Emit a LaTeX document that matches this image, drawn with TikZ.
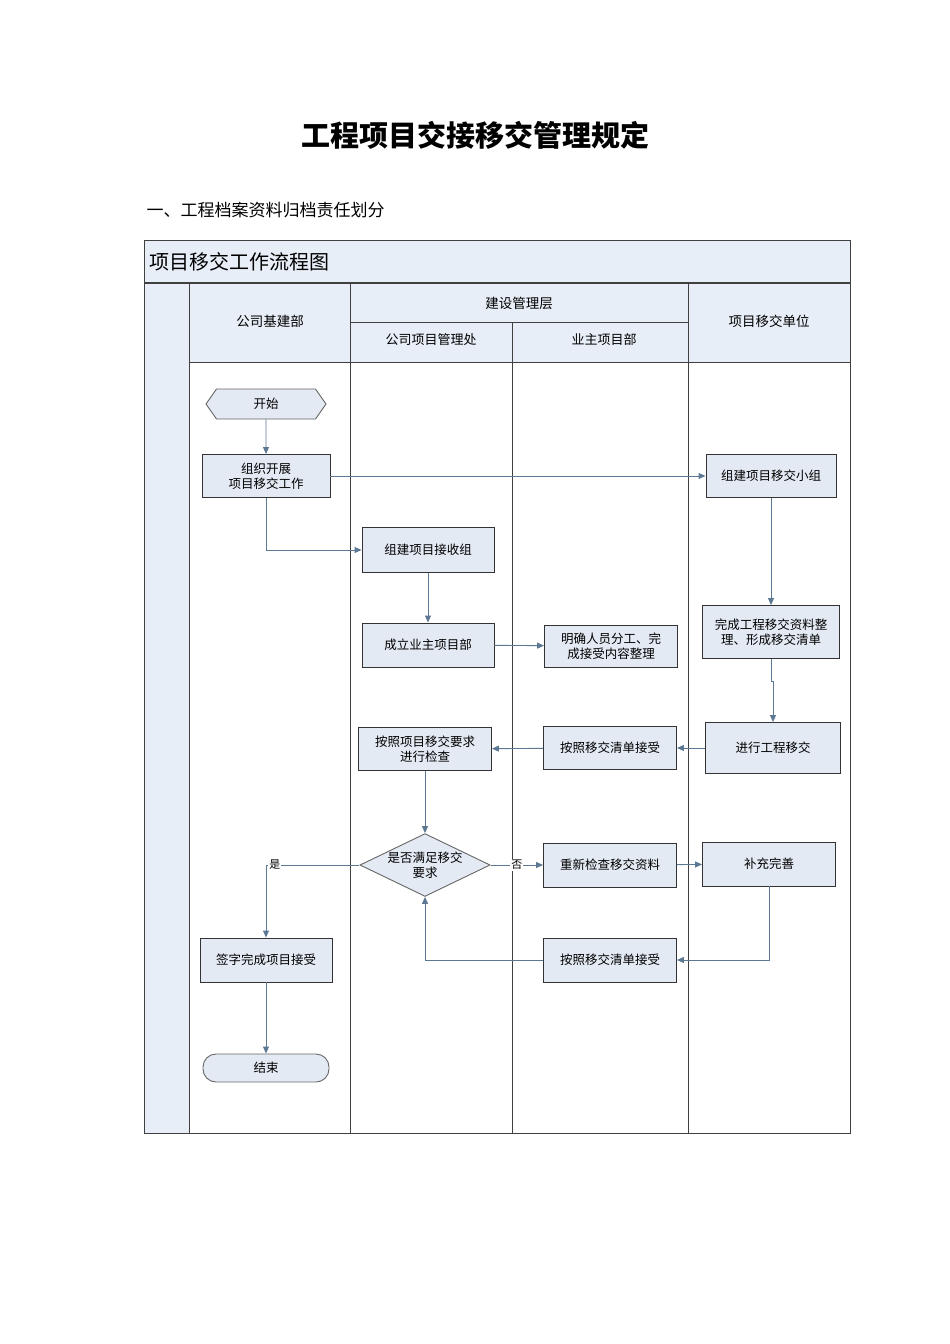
\documentclass[tikz,border=0pt]{standalone}
\usepackage{fontspec}
\setmainfont{Noto Sans CJK SC}
\usetikzlibrary{shapes.geometric,shapes.symbols,arrows.meta}
\definecolor{hd}{HTML}{E8EEF7}
\definecolor{bx}{HTML}{E4EAF4}
\definecolor{ar}{HTML}{5D7893}
\tikzset{
 boxn/.style={draw=black!80,line width=0.9pt,fill=bx,align=center,inner sep=0pt,font=\fontsize{12.5}{15}\selectfont},
 arr/.style={draw=ar,line width=0.9pt,-{Triangle[length=7pt,width=6pt]}},
 lane/.style={draw=black!75,line width=0.8pt},
 lbl/.style={fill=white,inner sep=1pt,font=\fontsize{11}{13}\selectfont}
}
\begin{document}
\begin{tikzpicture}[x=1pt,y=-1pt]
\useasboundingbox (0,0) rectangle (950,1344);
\node[font=\bfseries\fontsize{29}{34}\selectfont] (ttl) at (475,135) {工程项目交接移交管理规定};
\node[anchor=west,font=\fontsize{17}{20}\selectfont] (sub) at (143,210) {一、工程档案资料归档责任划分};
% frame
\fill[hd] (144,240) rectangle (850,283);
\fill[hd] (144,283) rectangle (189,1133);
\fill[hd] (189,283) rectangle (850,362);
\draw[lane] (144,240) rectangle (850,1133);
\draw[lane,line width=1.2pt] (144,283) -- (850,283);
\draw[lane] (189,283) -- (189,1133);
\draw[lane] (350,283) -- (350,1133);
\draw[lane] (512,322) -- (512,1133);
\draw[lane] (688,283) -- (688,1133);
\draw[lane] (350,322) -- (688,322);
\draw[lane] (189,362) -- (850,362);
\node[anchor=west,font=\fontsize{20}{24}\selectfont] (ft) at (146,262) {项目移交工作流程图};
\node[font=\fontsize{13.5}{16}\selectfont] (h1) at (270,321) {公司基建部};
\node[font=\fontsize{13.5}{16}\selectfont] (h2) at (519,303) {建设管理层};
\node[font=\fontsize{13}{16}\selectfont] (h3) at (431,340) {公司项目管理处};
\node[font=\fontsize{13}{16}\selectfont] (h4) at (604,340) {业主项目部};
\node[font=\fontsize{13.5}{16}\selectfont] (h5) at (769,321) {项目移交单位};
% nodes
\node[boxn,draw=black!60,shape=signal,signal to=west and east,signal pointer angle=110,minimum width=120pt,minimum height=30pt] (start) at (266,404) {开始};
\node[boxn,minimum width=128pt,minimum height=43pt] (org) at (266,476) {组织开展\\项目移交工作};
\node[boxn,minimum width=130pt,minimum height=43pt] (team) at (771,476) {组建项目移交小组};
\node[boxn,minimum width=132pt,minimum height=45pt] (recv) at (428,550) {组建项目接收组};
\node[boxn,minimum width=132pt,minimum height=44pt] (est) at (428,645) {成立业主项目部};
\node[boxn,minimum width=133pt,minimum height=42pt] (clar) at (611,646) {明确人员分工、完\\成接受内容整理};
\node[boxn,minimum width=137pt,minimum height=53pt] (done) at (771,632) {完成工程移交资料整\\理、形成移交清单};
\node[boxn,minimum width=135pt,minimum height=51pt] (go) at (773,748) {进行工程移交};
\node[boxn,minimum width=133pt,minimum height=43pt] (acc1) at (610,748) {按照移交清单接受};
\node[boxn,minimum width=133pt,minimum height=43pt] (chk) at (425,749) {按照项目移交要求\\进行检查};
\node[boxn,draw=black!60,shape=diamond,aspect=2.07,minimum width=124pt,minimum height=60pt,inner sep=0pt] (dec) at (425,865) {是否满足移交\\要求};
\node[boxn,minimum width=133pt,minimum height=44pt] (rech) at (610,865) {重新检查移交资料};
\node[boxn,minimum width=133pt,minimum height=44pt] (sup) at (769,864) {补充完善};
\node[boxn,minimum width=133pt,minimum height=44pt] (acc2) at (610,960) {按照移交清单接受};
\node[boxn,minimum width=132pt,minimum height=44pt] (sign) at (266,960) {签字完成项目接受};
\node[boxn,draw=black!60,rounded corners=13pt,minimum width=126pt,minimum height=28pt] (end) at (266,1068) {结束};
% edges
\draw[arr] (start) -- (org);
\draw[arr] (org) -- (team);
\draw[arr] (org.south) |- (recv.west);
\draw[arr] (recv) -- (est);
\draw[arr] (est) -- (clar);
\draw[arr] (team) -- (done);
\draw[arr] (done.south) -- ++(0,22) -| (go.north);
\draw[arr] (go) -- (acc1);
\draw[arr] (acc1) -- (chk);
\draw[arr] (chk) -- (dec);
\draw[arr] (dec.west) -| node[pos=0.5,anchor=west,xshift=2pt,lbl] (yes) {是} (sign.north);
\draw[arr] (dec.east) -- node[pos=0.5,lbl] (no) {否} (rech);
\draw[arr] (rech) -- (sup);
\draw[arr] (sup.south) |- (acc2.east);
\draw[arr] (acc2.west) -| (dec.south);
\draw[arr] (sign) -- (end);
\end{tikzpicture}
\end{document}
